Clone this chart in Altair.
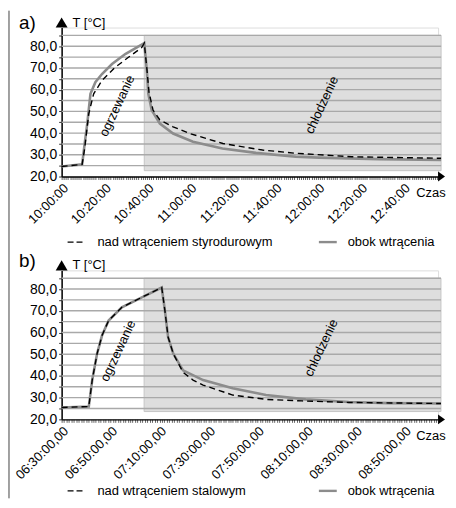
import json
import altair as alt
import pandas as pd

FONT = "Liberation Sans"

# ---------------- panel a) data (minutes from 10:00:00) ----------------
a_tick_labels = ["10:00:00", "10:20:00", "10:40:00", "11:00:00", "11:20:00",
                 "11:40:00", "12:00:00", "12:20:00", "12:40:00"]
a_solid_t = [0, 9.6, 10.8, 12.0, 13.5, 15.8, 18.9, 23.6, 29.8, 38.7, 39.9, 40.6,
             42.2, 46.0, 52.2, 61.5, 75.3, 91.0, 109.6, 120.5, 148.4, 177.7]
a_solid_T = [24.6, 25.6, 35.2, 44.4, 58.1, 63.4, 67.2, 71.8, 76.4, 81.4, 68.8, 58.1,
             50.5, 44.4, 39.8, 36.0, 32.9, 30.9, 29.1, 28.7, 28.0, 27.6]
a_dash_t = [0, 9.6, 10.8, 12.7, 15.0, 18.9, 25.1, 31.3, 37.5, 38.7, 39.9, 40.9,
            42.8, 46.0, 52.2, 60.0, 75.5, 94.1, 109.6, 135.8, 177.7]
a_dash_T = [24.6, 25.6, 33.0, 48.9, 58.1, 64.2, 70.3, 74.9, 79.4, 81.4, 69.8, 58.9,
            50.6, 46.1, 42.9, 39.8, 35.2, 32.2, 30.7, 29.1, 28.4]
a_shade = [38.7, 177.7, 22.7, 85.0]
a_legend = ["nad wtrąceniem styrodurowym", "obok wtrącenia"]

# ---------------- panel b) data (minutes from 06:30:00) ----------------
b_tick_labels = ["06:30:00,00", "06:50:00,00", "07:10:00,00", "07:30:00,00",
                 "07:50:00,00", "08:10:00,00", "08:30:00,00", "08:50:00,00"]
b_solid_t = [0, 11.1, 12.5, 14.5, 16.5, 19.2, 24.6, 32.8, 40.9, 42.2, 43.5, 45.6,
             49.6, 57.8, 69.9, 83.5, 99.7, 117.3, 133.5, 155.0]
b_solid_T = [25.5, 25.9, 38.1, 50.3, 58.6, 65.5, 71.6, 76.2, 80.7, 70.1, 57.9, 50.3,
             42.6, 38.1, 34.3, 31.2, 29.2, 28.0, 27.5, 27.3]
b_dash_t = [0, 11.1, 12.5, 14.5, 16.5, 19.2, 24.6, 32.8, 40.9, 42.2, 43.5, 45.6,
            49.6, 53.7, 57.8, 69.9, 83.5, 98.3, 117.3, 155.0]
b_dash_T = [25.5, 25.9, 38.1, 50.3, 58.6, 65.5, 71.6, 76.2, 80.7, 70.1, 57.9, 50.3,
            41.7, 38.1, 35.8, 31.2, 29.2, 28.5, 27.8, 27.3]
b_shade = [33.7, 155.0, 23.6, 85.0]
b_legend = ["nad wtrąceniem stalowym", "obok wtrącenia"]

grid_levels = [25, 30, 35, 40, 45, 50, 55, 60, 65, 70, 75, 80, 85]
phase_labels = ["ogrzewanie", "chłodzenie"]

W, H = 379, 150
YMAX = 88.6
one = pd.DataFrame({"_": [0]})


def panel(tag, labels, px_per_min, s_t, s_T, d_t, d_T, shade, legend, ann, leg_y, tag_y):
    xmax = W / px_per_min
    xscale = alt.Scale(domain=[0, xmax], nice=False, zero=False)
    yscale = alt.Scale(domain=[20, YMAX], nice=False, zero=False)
    lab_expr = ("datum.value % 20 == 0 && datum.value / 20 < {n} ? {arr}[datum.value / 20] : ''"
                .format(n=len(labels), arr=json.dumps(labels)))
    xaxis = alt.Axis(values=list(range(0, int(xmax) + 1)), labelExpr=lab_expr, labelAngle=315,
                     labelAlign="right", labelBaseline="top", labelFontSize=13,
                     labelColor="black", labelPadding=2, labelOverlap=False,
                     labelFlush=False, tickSize=3, tickColor="#666", tickWidth=1,
                     domainColor="black", domainWidth=1.5, grid=False, title=None,
                     labelFont=FONT)
    yaxis = alt.Axis(values=list(range(20, 86, 5)),
                     labelExpr="datum.value % 10 == 0 ? replace(format(datum.value, '.1f'), '.', ',') : ''",
                     labelFontSize=14, labelColor="black", labelPadding=2, labelFlush=False,
                     tickSize=3, tickColor="#333", domainColor="black", domainWidth=1.5,
                     grid=False, title=None, labelFont=FONT)

    def X(f):
        return alt.X(f, type="quantitative", scale=xscale, axis=xaxis)

    def Y(f):
        return alt.Y(f, type="quantitative", scale=yscale, axis=yaxis)

    solid = pd.DataFrame({"t": s_t, "T": s_T})
    dash = pd.DataFrame({"t": d_t, "T": d_T})

    shade_df = pd.DataFrame({"x0": [shade[0]], "x1": [shade[1]], "y0": [shade[2]], "y1": [shade[3]]})
    shade_l = alt.Chart(shade_df).mark_rect(fill="#dedede", stroke="#c6c6c6", strokeWidth=1).encode(
        x=X("x0"), x2="x1:Q", y=Y("y0"), y2="y1:Q")

    grid_df = pd.DataFrame({"g": grid_levels, "x0": [0.0] * len(grid_levels),
                            "x1": [shade[1]] * len(grid_levels)})
    grid_l = alt.Chart(grid_df).mark_rule(color="#a9a9a9", strokeWidth=1.4).encode(
        y=Y("g"), x=X("x0"), x2="x1:Q")

    solid_l = alt.Chart(solid).mark_line(color="#8c8c8c", strokeWidth=2.6).encode(
        x=X("t"), y=Y("T"))
    dash_l = alt.Chart(dash).mark_line(color="black", strokeWidth=1.4, strokeDash=[6, 4]).encode(
        x=X("t"), y=Y("T"))

    ann_df = pd.DataFrame({"x": [ann[0], ann[2]], "y": [ann[1], ann[3]], "txt": phase_labels})
    ann_l = alt.Chart(ann_df).mark_text(angle=295, font=FONT, fontSize=13, color="black",
                                        align="center", baseline="middle").encode(
        x=X("x"), y=Y("y"), text="txt:N")

    xarrow_df = pd.DataFrame({"x": [xmax], "y": [20]})
    xarrow = alt.Chart(xarrow_df).mark_point(shape="M0,-1L0,1L1.4,0Z", size=100, filled=True,
                                             color="black", opacity=1).encode(
        x=X("x"), y=Y("y"))
    yarrow_df = pd.DataFrame({"x": [0], "y": [YMAX]})
    yarrow = alt.Chart(yarrow_df).mark_point(shape="M-1,0L1,0L0,-1.7Z", size=144, filled=True,
                                             color="black", opacity=1).encode(
        x=X("x"), y=Y("y"))

    def txt(s, x, y, size=13, align="left"):
        return alt.Chart(one).mark_text(text=s, font=FONT, fontSize=size, align=align,
                                        baseline="middle", color="black").encode(
            x=alt.value(x), y=alt.value(y))

    layers = [shade_l, grid_l, solid_l, dash_l, ann_l, xarrow, yarrow,
              txt(tag, -43, tag_y, size=19),
              txt("T [°C]", 11, -5, size=13),
              txt("Czas", 357, 167, size=13),
              alt.Chart(one).mark_rule(color="black", strokeWidth=1.4, strokeDash=[6, 3]).encode(
                  x=alt.value(6), x2=alt.value(22), y=alt.value(leg_y)),
              txt(legend[0], 36, leg_y),
              alt.Chart(one).mark_rule(color="#8c8c8c", strokeWidth=2.4).encode(
                  x=alt.value(259), x2=alt.value(277), y=alt.value(leg_y)),
              txt(legend[1], 288, leg_y)]
    if tag == "a)":
        layers.insert(0, alt.Chart(one).mark_rule(color="#444", strokeWidth=1).encode(
            x=alt.value(-53), y=alt.value(-17), y2=alt.value(474)))
    return alt.layer(*layers).properties(width=W, height=H)


pa = panel("a)", a_tick_labels, 2.15, a_solid_t, a_solid_T, a_dash_t, a_dash_T,
           a_shade, a_legend, [26.0, 52.5, 121.9, 52.9], 216, -5)
pb = panel("b)", b_tick_labels, 2.464, b_solid_t, b_solid_T, b_dash_t, b_dash_T,
           b_shade, b_legend, [23.1, 51.5, 106.1, 52.9], 222, -9)

chart = alt.vconcat(pa, pb, spacing=94.5, bounds="flush").properties(padding=0).configure_view(
    stroke=None).configure(font=FONT)

chart.save("out.html", embed_options={"renderer": "svg", "actions": False})
